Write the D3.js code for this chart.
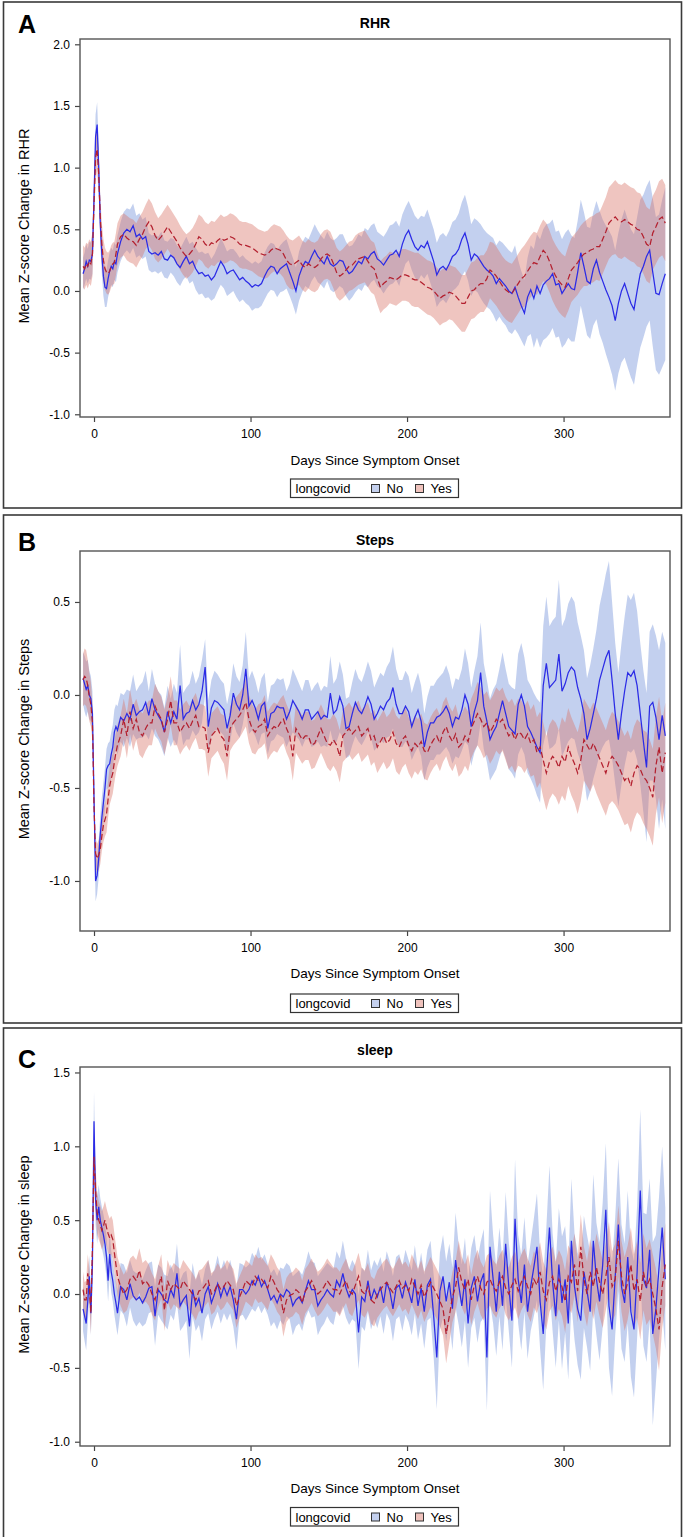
<!DOCTYPE html>
<html><head><meta charset="utf-8">
<script src="https://cdn.jsdelivr.net/npm/d3@7"></script>
<style>
body{margin:0;background:#fff;}
svg text{font-family:"Liberation Sans",Arial,Helvetica,sans-serif;fill:#000;}
</style></head><body>
<svg id="chart" width="685" height="1537"></svg>
<script>
// x grid: daily from -7 to 15, then every second day to 365
const days = d3.range(-7, 16).concat(d3.range(17, 366, 2));
const xTicks = [0, 100, 200, 300];
const groups = ["No", "Yes"];
const legendTitle = "longcovid";
const panelLetters = ["A", "B", "C"];
const panelTitles = ["RHR", "Steps", "sleep"];
const yLabels = ["Mean Z-score Change in RHR", "Mean Z-score Change in Steps", "Mean Z-score Change in sleep"];
const xLabel = "Days Since Symptom Onset";
const yTicksRHR = [-1.0, -0.5, 0.0, 0.5, 1.0, 1.5, 2.0];
const yTicksSteps = [-1.0, -0.5, 0.0, 0.5];
const yTicksSleep = [-1.0, -0.5, 0.0, 0.5, 1.0, 1.5];

// ---------- RHR ----------
const rhrNoMean = [
0.14,0.18,0.24,0.2,0.25,0.24,0.3,0.75,1.25,1.35,1.0,0.55,0.3,0.12,0.03,0.02,0.1,0.16,0.2,0.18,0.24,0.22,0.3,
0.40,0.47,0.50,0.48,0.53,0.44,0.46,0.42,0.44,0.32,
0.30,0.31,0.29,0.32,0.26,0.25,0.29,0.27,0.22,0.19,
0.24,0.28,0.22,0.24,0.18,0.14,0.15,0.12,0.13,0.09,
0.12,0.18,0.24,0.2,0.14,0.16,0.17,0.13,0.09,0.11,
0.08,0.06,0.03,0.05,0.04,0.06,0.12,0.17,0.2,0.19,
0.14,0.18,0.2,0.22,0.15,0.08,0.0,0.12,0.19,0.24,
0.22,0.28,0.33,0.28,0.25,0.22,0.28,0.22,0.2,0.22,
0.25,0.24,0.18,0.14,0.16,0.2,0.24,0.22,0.28,0.26,
0.3,0.32,0.26,0.24,0.21,0.25,0.29,0.3,0.33,0.28,
0.38,0.45,0.49,0.42,0.36,0.33,0.37,0.35,0.40,0.32,
0.24,0.13,0.18,0.2,0.17,0.22,0.28,0.3,0.34,0.42,
0.47,0.38,0.25,0.3,0.28,0.24,0.2,0.17,0.15,0.12,
0.06,0.1,0.07,0.04,0.0,-0.02,0.03,-0.05,-0.12,-0.18,
-0.05,0.01,-0.06,0.04,-0.02,0.05,0.08,0.1,0.14,0.05,
0.06,-0.02,0.02,0.06,0.02,0.01,0.15,0.31,0.2,0.08,
0.06,0.18,0.25,0.15,0.08,0.01,-0.05,-0.12,-0.24,-0.1,
0.0,0.06,-0.02,-0.1,-0.15,0.0,0.14,0.2,0.28,0.33,
0.15,-0.02,-0.03,0.06,0.14];
const rhrNoHalf = [
0.13,0.13,0.14,0.14,0.15,0.15,0.16,0.17,0.18,0.18,0.18,0.17,0.16,0.16,0.16,0.15,0.15,0.15,0.15,0.15,0.15,0.15,0.15,
0.16,0.17,0.17,0.18,0.18,0.17,0.17,0.16,0.16,0.15,
0.15,0.15,0.15,0.16,0.15,0.15,0.14,0.15,0.15,0.15,
0.15,0.16,0.16,0.16,0.17,0.17,0.17,0.18,0.18,0.17,
0.18,0.18,0.19,0.18,0.18,0.18,0.17,0.18,0.18,0.18,
0.18,0.18,0.19,0.19,0.18,0.18,0.19,0.19,0.19,0.19,
0.19,0.19,0.2,0.2,0.19,0.19,0.19,0.2,0.2,0.2,
0.2,0.2,0.21,0.21,0.2,0.2,0.2,0.21,0.21,0.21,
0.21,0.22,0.22,0.22,0.21,0.21,0.22,0.22,0.23,0.23,
0.23,0.23,0.22,0.22,0.23,0.23,0.24,0.24,0.24,0.24,
0.24,0.23,0.24,0.25,0.25,0.25,0.24,0.25,0.26,0.26,
0.26,0.26,0.27,0.27,0.27,0.27,0.28,0.28,0.29,0.3,
0.31,0.3,0.29,0.29,0.29,0.3,0.3,0.3,0.3,0.31,
0.31,0.31,0.32,0.32,0.33,0.33,0.34,0.3,0.28,0.27,
0.32,0.36,0.4,0.42,0.44,0.45,0.46,0.45,0.44,0.43,
0.43,0.44,0.45,0.44,0.43,0.42,0.42,0.43,0.44,0.44,
0.45,0.46,0.48,0.5,0.5,0.52,0.54,0.56,0.57,0.57,
0.58,0.6,0.6,0.6,0.61,0.6,0.6,0.58,0.57,0.57,
0.6,0.62,0.65,0.68,0.7];
const rhrYesMean = [
0.2,0.18,0.22,0.2,0.24,0.22,0.3,0.7,1.08,1.15,0.95,0.6,0.38,0.25,0.18,0.15,0.14,0.16,0.2,0.22,0.23,0.3,0.38,
0.44,0.46,0.43,0.41,0.4,0.37,0.42,0.46,0.52,0.56,
0.52,0.45,0.41,0.44,0.48,0.52,0.48,0.44,0.4,0.35,
0.31,0.28,0.3,0.33,0.38,0.44,0.42,0.38,0.36,0.39,
0.38,0.41,0.43,0.41,0.42,0.44,0.43,0.41,0.38,0.37,
0.37,0.36,0.35,0.33,0.31,0.3,0.29,0.3,0.33,0.35,
0.34,0.33,0.3,0.25,0.22,0.21,0.23,0.25,0.21,0.19,
0.22,0.2,0.19,0.21,0.26,0.29,0.3,0.28,0.22,0.15,
0.12,0.14,0.17,0.2,0.21,0.24,0.26,0.27,0.28,0.24,
0.2,0.18,0.1,0.03,0.06,0.08,0.11,0.1,0.09,0.11,
0.13,0.13,0.12,0.1,0.09,0.09,0.07,0.05,0.03,0.02,
0.0,-0.03,-0.06,-0.04,-0.03,-0.01,-0.02,-0.04,-0.07,-0.1,
-0.1,-0.05,0.0,0.01,0.04,0.06,0.06,0.1,0.17,0.15,
0.12,0.08,0.04,0.01,-0.01,-0.02,0.02,0.06,0.1,0.12,
0.16,0.2,0.23,0.22,0.28,0.33,0.3,0.24,0.17,0.12,
0.08,0.05,0.03,0.1,0.17,0.2,0.23,0.27,0.3,0.31,
0.33,0.34,0.36,0.36,0.42,0.48,0.55,0.58,0.6,0.57,
0.56,0.58,0.56,0.54,0.53,0.5,0.49,0.44,0.38,0.36,
0.47,0.52,0.58,0.6,0.55];
const rhrYesHalf = [
0.17,0.17,0.17,0.18,0.18,0.18,0.18,0.18,0.18,0.18,0.18,0.17,0.17,0.17,0.17,0.17,0.17,0.17,0.17,0.17,0.17,0.17,0.17,
0.17,0.17,0.18,0.18,0.18,0.18,0.18,0.18,0.18,0.19,
0.19,0.19,0.18,0.18,0.18,0.18,0.18,0.18,0.18,0.18,
0.18,0.18,0.18,0.18,0.18,0.18,0.18,0.18,0.18,0.18,
0.18,0.18,0.19,0.19,0.19,0.19,0.19,0.19,0.19,0.19,
0.19,0.19,0.19,0.19,0.19,0.19,0.19,0.19,0.19,0.19,
0.19,0.19,0.19,0.2,0.2,0.2,0.2,0.2,0.2,0.2,
0.2,0.2,0.2,0.2,0.2,0.2,0.2,0.2,0.2,0.2,
0.2,0.2,0.2,0.2,0.2,0.21,0.21,0.21,0.21,0.21,
0.21,0.21,0.21,0.21,0.21,0.21,0.21,0.21,0.21,0.21,
0.21,0.21,0.21,0.22,0.22,0.22,0.22,0.22,0.22,0.22,
0.22,0.22,0.22,0.22,0.22,0.22,0.22,0.23,0.23,0.23,
0.23,0.23,0.23,0.23,0.23,0.23,0.23,0.23,0.23,0.24,
0.24,0.24,0.24,0.24,0.24,0.24,0.24,0.24,0.24,0.25,
0.25,0.25,0.25,0.25,0.25,0.25,0.25,0.25,0.25,0.25,
0.25,0.25,0.25,0.26,0.26,0.26,0.26,0.26,0.26,0.27,
0.27,0.27,0.27,0.28,0.28,0.28,0.29,0.29,0.3,0.3,
0.3,0.3,0.3,0.3,0.3,0.3,0.3,0.3,0.3,0.3,
0.3,0.3,0.31,0.31,0.31];

// ---------- Steps ----------
const stepsNoMean = [
0.09,0.06,0.03,0.05,0.0,-0.02,-0.1,-0.55,-1.0,-0.97,-0.88,-0.75,-0.66,-0.58,-0.5,-0.4,-0.38,-0.37,-0.32,-0.28,-0.2,-0.17,-0.19,
-0.12,-0.14,-0.1,-0.13,-0.05,-0.11,-0.09,-0.08,-0.04,-0.11,
-0.02,-0.08,-0.11,-0.14,-0.2,-0.09,-0.15,-0.09,-0.13,0.05,
-0.13,-0.1,-0.09,-0.03,-0.08,-0.05,0.02,0.15,-0.17,-0.07,
-0.03,-0.04,-0.06,-0.08,-0.18,-0.11,0.01,-0.05,-0.08,0.0,
0.14,-0.06,-0.03,-0.07,-0.13,-0.06,-0.04,-0.18,-0.1,-0.09,
-0.06,-0.07,-0.07,-0.13,-0.09,-0.03,-0.06,-0.09,-0.13,-0.08,
-0.08,-0.13,-0.11,-0.09,-0.13,-0.11,-0.12,0.01,-0.1,-0.08,
-0.01,-0.06,-0.18,-0.17,-0.1,-0.04,-0.08,-0.1,-0.06,-0.01,
-0.05,-0.13,-0.1,-0.06,-0.08,-0.04,-0.02,0.04,-0.05,-0.1,
-0.1,-0.06,-0.09,-0.17,-0.12,-0.08,-0.14,-0.28,-0.2,-0.15,
-0.15,-0.12,-0.11,-0.09,-0.06,-0.1,-0.17,-0.12,-0.13,-0.08,
0.0,-0.05,-0.17,-0.09,-0.03,0.12,-0.06,-0.14,-0.24,-0.2,
-0.17,-0.1,-0.03,-0.1,-0.17,-0.19,-0.21,-0.05,0.0,-0.06,
-0.17,-0.2,-0.24,-0.28,-0.31,0.05,0.17,0.04,0.06,0.08,
0.22,0.02,0.06,0.12,0.15,0.13,0.04,-0.02,-0.1,-0.24,
-0.18,-0.1,-0.02,0.08,0.14,0.2,0.24,0.08,-0.1,-0.24,
-0.1,0.02,0.12,0.1,0.13,0.05,-0.1,-0.25,-0.39,-0.06,
-0.04,-0.12,-0.24,-0.11,-0.22];
const stepsNoHalf = [
0.14,0.15,0.15,0.14,0.13,0.12,0.12,0.12,0.11,0.1,0.1,0.1,0.11,0.11,0.11,0.11,0.12,0.12,0.12,0.12,0.12,0.12,0.13,
0.13,0.14,0.13,0.15,0.16,0.13,0.14,0.15,0.17,0.13,
0.16,0.14,0.13,0.14,0.13,0.14,0.13,0.15,0.14,0.22,
0.14,0.14,0.15,0.16,0.14,0.15,0.17,0.15,0.14,0.15,
0.16,0.15,0.14,0.14,0.13,0.14,0.16,0.15,0.15,0.16,
0.2,0.15,0.16,0.15,0.14,0.15,0.16,0.14,0.15,0.15,
0.15,0.15,0.16,0.15,0.15,0.17,0.16,0.15,0.15,0.16,
0.16,0.15,0.16,0.16,0.15,0.16,0.16,0.2,0.16,0.17,
0.19,0.17,0.16,0.16,0.17,0.18,0.17,0.17,0.18,0.19,
0.18,0.17,0.18,0.18,0.18,0.19,0.2,0.22,0.19,0.18,
0.18,0.19,0.19,0.18,0.19,0.2,0.19,0.18,0.19,0.2,
0.2,0.2,0.21,0.21,0.22,0.21,0.2,0.21,0.21,0.22,
0.25,0.22,0.21,0.22,0.24,0.27,0.23,0.22,0.22,0.23,
0.23,0.24,0.26,0.24,0.23,0.23,0.24,0.27,0.28,0.26,
0.25,0.25,0.25,0.26,0.27,0.32,0.36,0.33,0.34,0.34,
0.4,0.35,0.35,0.37,0.38,0.37,0.35,0.34,0.34,0.33,
0.34,0.35,0.37,0.4,0.42,0.45,0.48,0.42,0.38,0.36,
0.38,0.4,0.42,0.41,0.42,0.4,0.38,0.38,0.4,0.4,
0.42,0.44,0.48,0.45,0.5];
const stepsYesMean = [
0.08,0.1,0.09,0.05,-0.01,-0.05,-0.15,-0.6,-0.85,-0.88,-0.86,-0.83,-0.76,-0.7,-0.67,-0.64,-0.56,-0.49,-0.45,-0.42,-0.36,-0.31,-0.27,
-0.22,-0.13,-0.22,-0.09,-0.18,-0.13,-0.2,-0.22,-0.18,-0.15,
-0.15,-0.06,-0.1,-0.13,-0.2,-0.13,-0.03,-0.15,-0.15,-0.2,
-0.17,-0.15,-0.18,-0.14,-0.11,-0.17,-0.17,-0.18,-0.31,-0.22,
-0.2,-0.18,-0.22,-0.24,-0.33,-0.18,-0.15,-0.13,-0.11,-0.08,
-0.04,-0.13,-0.18,-0.2,-0.17,-0.16,-0.13,-0.22,-0.19,-0.17,
-0.18,-0.15,-0.13,-0.18,-0.22,-0.33,-0.18,-0.21,-0.24,-0.22,
-0.22,-0.27,-0.26,-0.22,-0.18,-0.22,-0.26,-0.27,-0.24,-0.27,
-0.33,-0.22,-0.2,-0.18,-0.21,-0.19,-0.17,-0.22,-0.2,-0.18,
-0.24,-0.22,-0.28,-0.25,-0.22,-0.26,-0.24,-0.2,-0.26,-0.28,
-0.24,-0.22,-0.27,-0.3,-0.26,-0.28,-0.25,-0.3,-0.31,-0.27,
-0.24,-0.22,-0.26,-0.2,-0.17,-0.22,-0.25,-0.21,-0.28,-0.26,
-0.22,-0.25,-0.18,-0.14,-0.1,-0.13,-0.17,-0.15,-0.2,-0.17,
-0.13,-0.15,-0.13,-0.18,-0.22,-0.2,-0.24,-0.2,-0.21,-0.24,
-0.21,-0.26,-0.24,-0.31,-0.28,-0.35,-0.42,-0.36,-0.33,-0.35,
-0.39,-0.33,-0.36,-0.28,-0.33,-0.37,-0.42,-0.35,-0.24,-0.27,
-0.3,-0.26,-0.3,-0.34,-0.38,-0.42,-0.36,-0.33,-0.35,-0.38,
-0.42,-0.46,-0.44,-0.49,-0.42,-0.38,-0.4,-0.44,-0.46,-0.5,
-0.55,-0.38,-0.28,-0.42,-0.31];
const stepsYesHalf = [
0.14,0.15,0.15,0.14,0.13,0.12,0.1,0.09,0.08,0.08,0.08,0.08,0.08,0.09,0.09,0.1,0.1,0.1,0.11,0.11,0.11,0.11,0.11,
0.11,0.11,0.12,0.12,0.12,0.11,0.12,0.12,0.12,0.12,
0.12,0.12,0.12,0.12,0.12,0.12,0.13,0.12,0.12,0.12,
0.12,0.12,0.12,0.12,0.12,0.12,0.12,0.12,0.13,0.12,
0.12,0.12,0.12,0.13,0.13,0.12,0.12,0.12,0.12,0.12,
0.13,0.13,0.13,0.12,0.12,0.12,0.13,0.13,0.13,0.13,
0.13,0.13,0.13,0.13,0.13,0.13,0.13,0.13,0.13,0.13,
0.13,0.13,0.13,0.13,0.13,0.13,0.13,0.14,0.14,0.14,
0.14,0.14,0.14,0.14,0.14,0.14,0.14,0.14,0.14,0.14,
0.14,0.14,0.14,0.14,0.14,0.14,0.14,0.14,0.15,0.15,
0.15,0.15,0.15,0.15,0.15,0.15,0.15,0.15,0.15,0.15,
0.15,0.15,0.15,0.16,0.16,0.16,0.16,0.16,0.16,0.16,
0.16,0.16,0.16,0.16,0.17,0.17,0.17,0.17,0.17,0.17,
0.17,0.17,0.17,0.17,0.18,0.18,0.18,0.18,0.18,0.18,
0.18,0.18,0.19,0.19,0.19,0.2,0.2,0.2,0.2,0.2,
0.2,0.21,0.21,0.21,0.21,0.21,0.22,0.22,0.22,0.22,
0.22,0.22,0.23,0.23,0.23,0.23,0.23,0.24,0.24,0.24,
0.24,0.24,0.25,0.25,0.25,0.25,0.25,0.25,0.26,0.26,
0.26,0.26,0.27,0.27,0.27];

// ---------- sleep ----------
const sleepNoMean = [
-0.1,-0.15,-0.2,-0.05,0.12,-0.13,0.21,1.17,0.64,0.5,0.59,0.5,0.45,0.4,0.34,0.25,0.09,0.27,0.15,0.09,0.0,-0.06,-0.13,
0.05,0.03,-0.04,0.07,-0.01,-0.04,-0.02,-0.06,-0.02,0.04,
0.05,-0.15,0.03,0.0,-0.04,-0.06,0.03,-0.02,0.14,-0.08,
-0.04,-0.01,-0.22,0.03,-0.08,-0.03,-0.13,0.0,0.05,-0.06,
0.0,0.07,-0.02,0.05,-0.01,0.05,-0.04,-0.17,0.03,0.03,
0.0,0.03,0.09,0.06,0.12,0.05,0.09,0.03,-0.04,-0.01,
-0.06,0.0,-0.02,0.03,0.01,-0.08,-0.04,-0.02,-0.06,0.02,
0.09,0.03,0.03,-0.08,-0.04,-0.01,0.03,0.0,-0.02,0.09,
0.05,0.14,0.04,-0.02,0.03,0.0,-0.26,-0.02,-0.05,0.09,
-0.04,0.03,-0.02,0.05,-0.06,0.08,0.02,-0.1,0.04,0.06,
-0.03,0.08,0.02,-0.06,0.1,-0.08,0.04,-0.12,0.06,0.1,
-0.15,-0.43,0.02,0.12,-0.05,0.08,-0.1,0.23,0.06,-0.08,
0.1,-0.2,0.04,0.12,-0.05,0.08,0.14,-0.43,0.32,0.1,
-0.12,0.15,-0.08,0.34,0.05,-0.18,0.51,0.1,-0.06,0.2,
-0.12,0.05,0.18,0.32,-0.05,-0.27,0.12,0.45,0.08,-0.15,
0.2,-0.06,0.1,-0.2,0.36,0.05,-0.1,-0.18,0.15,0.02,
-0.12,0.36,0.1,-0.05,0.2,0.57,-0.08,-0.24,0.12,0.47,
0.05,-0.06,0.25,-0.12,-0.24,0.15,0.7,0.1,0.04,0.3,
-0.27,-0.1,0.18,0.45,0.1];
const sleepNoHalf = [
0.15,0.17,0.18,0.15,0.14,0.15,0.16,0.2,0.17,0.16,0.15,0.15,0.14,0.14,0.14,0.14,0.14,0.15,0.14,0.14,0.14,0.15,0.15,
0.16,0.17,0.18,0.16,0.17,0.18,0.17,0.16,0.18,0.17,
0.17,0.2,0.17,0.18,0.17,0.18,0.17,0.16,0.2,0.17,
0.18,0.17,0.22,0.18,0.17,0.18,0.19,0.17,0.18,0.18,
0.17,0.19,0.18,0.18,0.17,0.18,0.18,0.21,0.18,0.17,
0.18,0.17,0.19,0.18,0.2,0.18,0.18,0.17,0.18,0.18,
0.18,0.18,0.19,0.18,0.18,0.2,0.18,0.18,0.19,0.18,
0.2,0.19,0.18,0.2,0.19,0.19,0.18,0.19,0.19,0.2,
0.19,0.22,0.2,0.19,0.2,0.19,0.25,0.2,0.2,0.21,
0.2,0.2,0.21,0.2,0.21,0.21,0.2,0.22,0.21,0.21,
0.22,0.22,0.21,0.22,0.23,0.23,0.24,0.25,0.24,0.26,
0.28,0.35,0.26,0.28,0.27,0.26,0.28,0.32,0.27,0.28,
0.28,0.3,0.27,0.28,0.28,0.27,0.3,0.36,0.38,0.3,
0.3,0.3,0.3,0.35,0.3,0.32,0.4,0.3,0.32,0.32,
0.32,0.3,0.33,0.36,0.32,0.38,0.33,0.42,0.33,0.35,
0.38,0.45,0.36,0.38,0.42,0.36,0.38,0.4,0.38,0.38,
0.4,0.45,0.38,0.4,0.42,0.45,0.42,0.45,0.4,0.45,
0.42,0.4,0.45,0.44,0.46,0.45,0.55,0.45,0.5,0.48,
0.62,0.5,0.48,0.55,0.48];
const sleepYesMean = [
0.03,-0.04,-0.04,0.14,0.05,-0.13,0.32,0.93,0.7,0.55,0.5,0.47,0.43,0.46,0.5,0.45,0.41,0.38,0.4,0.37,0.28,0.2,0.12,
0.05,0.0,0.03,0.1,0.12,0.09,0.16,0.07,0.09,0.06,
0.0,-0.04,0.05,0.12,-0.11,0.09,0.03,0.07,0.05,0.03,
0.09,0.06,0.03,0.0,-0.04,0.02,0.03,0.06,0.09,0.0,
0.02,0.07,0.03,0.05,0.09,0.06,0.03,-0.08,-0.02,0.03,
0.09,0.07,0.05,0.12,0.09,0.1,0.07,0.04,0.12,0.08,
0.03,0.0,-0.13,-0.04,-0.01,0.0,0.03,0.01,-0.06,0.02,
0.05,0.09,0.04,0.0,0.02,0.05,0.09,0.06,0.03,0.03,
0.0,0.05,0.09,0.02,0.0,0.06,0.12,0.02,0.0,0.05,
-0.04,-0.06,0.0,0.03,0.06,0.08,0.04,0.01,0.05,0.09,
0.04,0.06,0.02,0.1,0.05,0.0,0.06,-0.02,0.03,0.08,
0.04,0.0,-0.05,-0.1,-0.27,-0.15,-0.02,0.05,0.18,0.08,
0.03,0.1,-0.04,0.06,0.12,0.04,0.0,0.08,0.1,0.05,
0.02,0.08,0.12,0.04,0.0,0.06,0.1,0.02,0.08,0.12,
0.05,0.0,0.1,0.06,0.15,0.02,-0.04,0.08,0.12,0.02,
0.1,0.05,-0.05,0.12,0.08,0.2,0.02,0.32,0.1,0.0,
0.15,0.05,0.18,0.08,0.0,0.12,0.25,0.05,0.1,0.36,
0.12,0.0,0.08,0.2,0.02,0.1,-0.05,0.15,0.05,0.1,
0.0,-0.1,-0.24,0.05,0.2];
const sleepYesHalf = [
0.12,0.12,0.13,0.13,0.13,0.14,0.15,0.16,0.15,0.14,0.13,0.13,0.13,0.13,0.13,0.13,0.13,0.13,0.13,0.13,0.13,0.13,0.13,
0.13,0.13,0.14,0.14,0.14,0.14,0.15,0.14,0.14,0.14,
0.14,0.14,0.14,0.15,0.14,0.14,0.14,0.14,0.14,0.14,
0.14,0.14,0.14,0.14,0.14,0.14,0.14,0.14,0.14,0.14,
0.14,0.14,0.14,0.14,0.14,0.14,0.14,0.15,0.14,0.14,
0.14,0.14,0.14,0.15,0.15,0.15,0.15,0.15,0.15,0.15,
0.15,0.15,0.16,0.15,0.15,0.15,0.15,0.15,0.15,0.15,
0.15,0.15,0.15,0.15,0.15,0.15,0.15,0.15,0.15,0.15,
0.15,0.15,0.15,0.15,0.15,0.15,0.16,0.16,0.16,0.16,
0.16,0.16,0.16,0.16,0.16,0.16,0.16,0.16,0.16,0.16,
0.16,0.16,0.16,0.17,0.17,0.17,0.17,0.17,0.17,0.17,
0.17,0.17,0.17,0.18,0.2,0.18,0.17,0.17,0.18,0.17,
0.17,0.17,0.17,0.18,0.18,0.18,0.18,0.18,0.18,0.18,
0.18,0.18,0.18,0.18,0.18,0.19,0.19,0.19,0.19,0.19,
0.19,0.19,0.19,0.19,0.2,0.2,0.2,0.2,0.2,0.2,
0.2,0.2,0.21,0.21,0.21,0.21,0.21,0.22,0.22,0.22,
0.22,0.22,0.23,0.23,0.23,0.23,0.24,0.24,0.24,0.24,
0.24,0.25,0.25,0.25,0.25,0.26,0.26,0.26,0.26,0.27,
0.27,0.27,0.28,0.28,0.28];

// ---------- layout ----------
const W = 685;
const plotLeft = 80, plotRight = 670;
const colors = {
  noBand: "#6f8fd8", yesBand: "#d87568",
  noLine: "#2b2be6", yesLine: "#b3202f",
  noKey: "#c4d0ee", yesKey: "#efc2bc"
};
const panels = [
  {box:[2,508], plot:[39,417], dom:[-1.022,2.043], ticks:yTicksRHR,
   noM:rhrNoMean, noH:rhrNoHalf, yesM:rhrYesMean, yesH:rhrYesHalf,
   letterY:32.5, titleY:28, xLabY:465, legY:479},
  {box:[515,1023], plot:[551,931], dom:[-1.269,0.774], ticks:yTicksSteps,
   noM:stepsNoMean, noH:stepsNoHalf, yesM:stepsYesMean, yesH:stepsYesHalf,
   letterY:551, titleY:545, xLabY:978, legY:994},
  {box:[1028,1545], plot:[1067,1446], dom:[-1.029,1.537], ticks:yTicksSleep,
   noM:sleepNoMean, noH:sleepNoHalf, yesM:sleepYesMean, yesH:sleepYesHalf,
   letterY:1068, titleY:1055, xLabY:1493, legY:1507.5}
];

const svg = d3.select("#chart");
svg.append("rect").attr("width",W).attr("height",1537).attr("fill","#fff");

const x = d3.scaleLinear().domain([-8.95, 368]).range([plotLeft, plotRight]);

function pts(m, h) {
  return days.map((d, i) => ({d, m: m[i], h: h[i]})).filter(p => p.m != null && p.h != null);
}

panels.forEach((p, k) => {
  const g = svg.append("g");
  // outer panel frame
  g.append("rect").attr("x",3.5).attr("y",p.box[0]).attr("width",678).attr("height",p.box[1]-p.box[0])
    .attr("fill","none").attr("stroke","#3a3a3a").attr("stroke-width",1.6);

  const y = d3.scaleLinear().domain(p.dom).range([p.plot[1], p.plot[0]]);
  const clipId = "clip" + k;
  g.append("clipPath").attr("id", clipId).append("rect")
    .attr("x", plotLeft).attr("y", p.plot[0]).attr("width", plotRight-plotLeft).attr("height", p.plot[1]-p.plot[0]);

  const area = d3.area().x(q => x(q.d)).y0(q => y(q.m - q.h)).y1(q => y(q.m + q.h));
  const line = d3.line().x(q => x(q.d)).y(q => y(q.m));
  const noP = pts(p.noM, p.noH), yesP = pts(p.yesM, p.yesH);
  const data = g.append("g").attr("clip-path", `url(#${clipId})`);
  data.append("path").datum(noP).attr("d", area).attr("fill", colors.noBand).attr("fill-opacity", 0.42);
  data.append("path").datum(yesP).attr("d", area).attr("fill", colors.yesBand).attr("fill-opacity", 0.42);
  data.append("path").datum(noP).attr("d", line).attr("fill","none").attr("stroke", colors.noLine).attr("stroke-width",1.25);
  data.append("path").datum(yesP).attr("d", line).attr("fill","none").attr("stroke", colors.yesLine)
    .attr("stroke-width",1.25).attr("stroke-dasharray","6,3");

  // axes
  const ya = g.append("g").attr("transform",`translate(${plotLeft},0)`)
    .call(d3.axisLeft(y).tickValues(p.ticks).tickFormat(v => v.toFixed(1)).tickSize(5).tickPadding(5));
  const xa = g.append("g").attr("transform",`translate(0,${p.plot[1]})`)
    .call(d3.axisBottom(x).tickValues(xTicks).tickFormat(d3.format("d")).tickSize(5).tickPadding(7));
  [ya, xa].forEach(a => {
    a.select(".domain").remove();
    a.selectAll(".tick line").attr("stroke","#444").attr("stroke-width",1.2);
    a.selectAll(".tick text").attr("font-size",12).attr("fill","#000")
      .style("font-family",'"Liberation Sans",Arial,sans-serif');
  });

  // plot frame
  g.append("rect").attr("x",plotLeft).attr("y",p.plot[0]).attr("width",plotRight-plotLeft).attr("height",p.plot[1]-p.plot[0])
    .attr("fill","none").attr("stroke","#555").attr("stroke-width",1.4);

  // texts
  g.append("text").attr("x",18).attr("y",p.letterY).attr("font-size",25).attr("font-weight","bold").text(panelLetters[k]);
  g.append("text").attr("x",(plotLeft+plotRight)/2).attr("y",p.titleY).attr("text-anchor","middle")
    .attr("font-size",14).attr("font-weight","bold").text(panelTitles[k]);
  g.append("text").attr("transform",`translate(28.5,${(p.plot[0]+p.plot[1])/2 - 2}) rotate(-90)`)
    .attr("text-anchor","middle").attr("font-size",14.5).text(yLabels[k]);
  g.append("text").attr("x",(plotLeft+plotRight)/2).attr("y",p.xLabY).attr("text-anchor","middle")
    .attr("font-size",13.5).text(xLabel);

  // legend
  const lg = g.append("g").attr("transform",`translate(290.5,${p.legY})`);
  lg.append("rect").attr("width",168).attr("height",18.5).attr("fill","#fff").attr("stroke","#333").attr("stroke-width",1.2);
  lg.append("text").attr("x",5).attr("y",14).attr("font-size",13).text(legendTitle);
  const keys = [{x:81, tx:96, fill:colors.noKey, label:groups[0]}, {x:125, tx:140, fill:colors.yesKey, label:groups[1]}];
  keys.forEach(kk => {
    lg.append("rect").attr("x",kk.x).attr("y",5.5).attr("width",8).attr("height",8)
      .attr("fill",kk.fill).attr("stroke","#333").attr("stroke-width",1);
    lg.append("text").attr("x",kk.tx).attr("y",14).attr("font-size",13).text(kk.label);
  });
});
</script>
</body></html>
